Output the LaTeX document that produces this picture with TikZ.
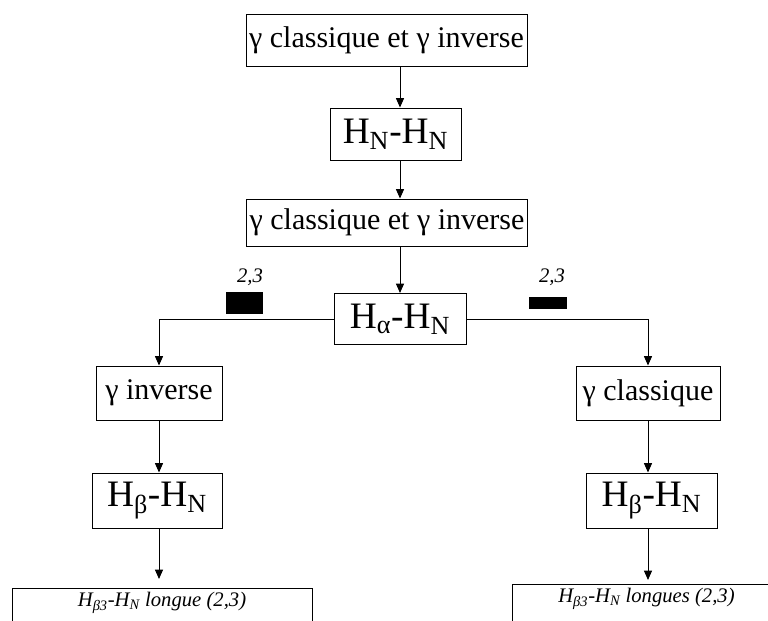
\documentclass[tikz,border=0pt]{standalone}
\usepackage{fontspec}
\setmainfont{Liberation Serif}
\usetikzlibrary{arrows.meta}

\tikzset{
  box/.style={draw,line width=0.75pt,inner sep=2pt,align=center},
  gtext/.style={font=\fontsize{22.5}{26}\selectfont},
  htext/.style={font=\fontsize{28}{32}\selectfont},
  small/.style={font=\fontsize{15.5}{18}\selectfont\itshape},
  flow/.style={-{Triangle[length=7pt,width=6pt]},line width=0.75pt},
  tag/.style={fill=black,inner sep=0pt},
}

\begin{document}
\begin{tikzpicture}[x=0.75pt,y=-0.75pt]
  \path[use as bounding box,clip] (0,0) rectangle (768,621);
  % ---------------- central column
  \node[box,gtext,minimum width=210.75pt,minimum height=39pt] (top) at (386.5,40)
     {γ classique et γ inverse};
  \node[box,htext,minimum width=98.25pt,minimum height=39pt] (hn) at (395.5,134)
     {H\textsubscript{N}-H\textsubscript{N}};
  \node[box,gtext,minimum width=208.5pt,minimum height=35.25pt] (both) at (387,222.5)
     {γ classique et γ inverse};
  \node[box,htext,minimum width=99pt,minimum height=38.25pt] (mid) at (400,319)
     {H\textsubscript{α}-H\textsubscript{N}};
  % ---------------- left branch
  \node[box,gtext,minimum width=94.5pt,minimum height=40.5pt] (inv) at (159,393)
     {γ inverse};
  \node[box,htext,minimum width=97.5pt,minimum height=41.25pt] (hbl) at (157,500.5)
     {H\textsubscript{β}-H\textsubscript{N}};
  \node[box,small,anchor=north,minimum width=225pt,inner ysep=3pt,text depth=30pt] (lng) at (162,588)
     {H\textsubscript{β3}-H\textsubscript{N} longue (2,3)};
  % ---------------- right branch
  \node[box,gtext,minimum width=108pt,minimum height=40.5pt] (cla) at (648,393)
     {γ classique};
  \node[box,htext,minimum width=98.25pt,minimum height=41.25pt] (hbr) at (651.5,500.5)
     {H\textsubscript{β}-H\textsubscript{N}};
  \node[box,small,anchor=north west,minimum width=208.5pt,inner ysep=3pt,text depth=30pt] (lngs) at (512,584)
     {\hspace*{-7.5pt}H\textsubscript{β3}-H\textsubscript{N} longues (2,3)};
  % ---------------- black tags
  \node[tag,minimum width=27.75pt,minimum height=16.5pt] (tagl) at (244.5,303) {};
  \node[small,anchor=south] at (250,290) {2,3};
  \node[tag,minimum width=28.5pt,minimum height=9pt] (tagr) at (548,303) {};
  \node[small,anchor=south] at (552,290) {2,3};
  % ---------------- arrows
  \draw[flow] (top.south -| mid.north) -- (hn.north -| mid.north);
  \draw[flow] (hn.south -| mid.north) -- (both.north -| mid.north);
  \draw[flow] (both.south -| mid.north) -- (mid.north);
  \draw[flow] (mid.west) -| (inv.north);
  \draw[flow] (mid.east) -| (cla.north);
  \draw[flow] (inv.south) -- (inv.south |- hbl.north);
  \draw[flow] (cla.south) -- (cla.south |- hbr.north);
  \draw[flow,shorten >=6.75pt] (hbl.south -| inv.south) -- (inv.south |- lng.north);
  \draw[flow,shorten >=3pt] (hbr.south -| cla.south) -- (cla.south |- lngs.north);
\end{tikzpicture}
\end{document}
